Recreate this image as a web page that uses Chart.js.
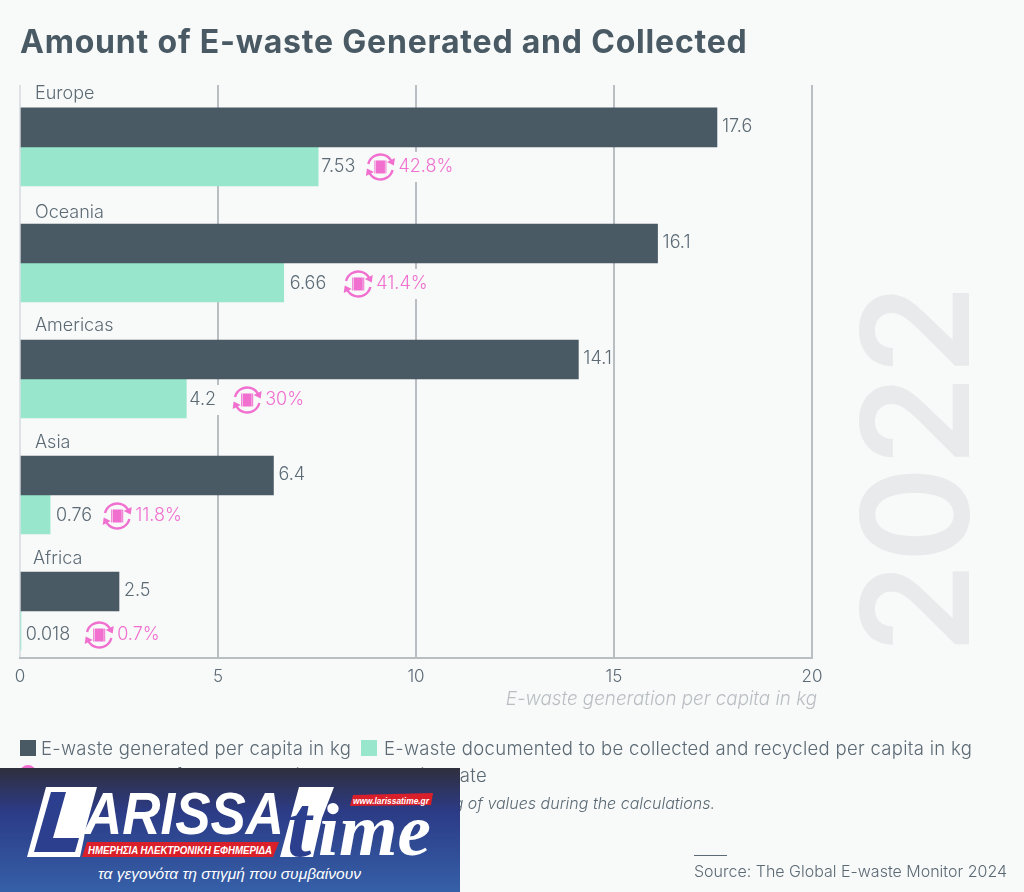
<!DOCTYPE html>
<html>
<head>
<meta charset="utf-8">
<title>Amount of E-waste Generated and Collected</title>
<script src="https://cdn.jsdelivr.net/npm/chart.js@4"></script>
<style>
  html, body { margin: 0; padding: 0; background: #f8f9f9; }
  body { width: 1024px; height: 892px; position: relative; overflow: hidden; font-family: Inter, sans-serif; color: #5b6a74; }
  #chart { position: absolute; left: 0; top: 0; }
  .txt { position: absolute; white-space: nowrap; }
  .swatch { position: absolute; width: 16px; height: 16px; }
  #title { left: 20px; top: 22px; font-size: 32px; font-weight: 700; color: #4a5a64; letter-spacing: 0.8px; }
  .legend { font-size: 18.5px; font-weight: 300; color: #5b6a74; letter-spacing: 0.3px; }
  #year { position: absolute; left: 915px; top: 469px; transform: translate(-50%, -50%) rotate(-90deg) scaleX(0.98); font-size: 149px; font-weight: 600; color: #e9eaec; white-space: nowrap; }
  #banner { position: absolute; left: 0; top: 768px; width: 460px; height: 124px; }
</style>
</head>
<body>
<div id="year">2022</div>
<canvas id="chart" width="1024" height="892"></canvas>
<div id="title" class="txt">Amount of E-waste Generated and Collected</div>

<div class="swatch" style="left:20px;top:740px;background:#4a5a64"></div>
<div class="txt legend" style="left:41px;top:737px">E-waste generated per capita in kg</div>
<div class="swatch" style="left:361px;top:740px;background:#98e6cc"></div>
<div class="txt legend" style="left:384px;top:737px">E-waste documented to be collected and recycled per capita in kg</div>
<div class="swatch" style="left:20px;top:765px;background:#f06fcf;border-radius:50%"></div>
<div class="txt legend" style="right:537px;top:764px">E-waste documented formal collection and recycling rate</div>
<div class="txt" style="right:309px;top:793px;font-size:16px;font-style:italic;font-weight:300">Note: Totals may differ due to rounding of values during the calculations.</div>
<div style="position:absolute;left:694px;top:855px;width:33px;height:1px;background:#5b6a74"></div>
<div class="txt" style="left:694px;top:861px;font-size:16px;font-weight:300">Source: The Global E-waste Monitor 2024</div>

<svg id="banner" viewBox="0 0 460 124" xmlns="http://www.w3.org/2000/svg">
  <defs>
    <linearGradient id="bg" x1="0" y1="0" x2="0" y2="1">
      <stop offset="0" stop-color="#2f2f3d"/>
      <stop offset="0.35" stop-color="#2c3b86"/>
      <stop offset="1" stop-color="#3560a8"/>
    </linearGradient>
  </defs>
  <rect width="460" height="124" fill="url(#bg)"/>
  <polygon points="27,89 46,19 97,19 85,63 84,70 80,89" fill="#fff"/>
  <polygon points="34,84 51,24 66,24 53,70 79,70 75,84" fill="#2c3f8e"/>
  <text x="84" y="66" font-family="Liberation Sans" font-weight="700" font-style="italic" font-size="60" fill="#fff" textLength="200" lengthAdjust="spacingAndGlyphs">ARISSA</text>
  <polygon points="87,74 279,74 273,89 82,89" fill="#d9202a"/>
  <text x="88" y="86" font-family="Liberation Sans" font-weight="700" font-style="italic" font-size="11" fill="#fff" textLength="184" lengthAdjust="spacingAndGlyphs">ΗΜΕΡΗΣΙΑ ΗΛΕΚΤΡΟΝΙΚΗ ΕΦΗΜΕΡΙΔΑ</text>
  <polygon points="299,19 334,19 322,50 313,89 280,89" fill="#fff"/>
  <text x="287" y="88" font-family="Liberation Serif" font-weight="700" font-style="italic" font-size="88" fill="#2c3f8e">t</text>
  <text x="318" y="87" font-family="Liberation Serif" font-weight="700" font-style="italic" font-size="74" fill="#fff" textLength="113" lengthAdjust="spacingAndGlyphs">ime</text>
  <polygon points="353,27 433,25 431,37 350,38" fill="#d9202a"/>
  <text x="353" y="36" font-family="Liberation Sans" font-weight="700" font-style="italic" font-size="9.5" fill="#fff" textLength="76" lengthAdjust="spacingAndGlyphs">www.larissatime.gr</text>
  <text x="98" y="111" font-family="Liberation Sans" font-style="italic" font-size="14.5" fill="#fff" textLength="263" lengthAdjust="spacingAndGlyphs">τα γεγονότα τη στιγμή που συμβαίνουν</text>
</svg>

<script>
// Data
const regions = ['Europe', 'Oceania', 'Americas', 'Asia', 'Africa'];
const generated = [17.6, 16.1, 14.1, 6.4, 2.5];
const collected = [7.53, 6.66, 4.2, 0.76, 0.018];
const collectedText = ['7.53', '6.66', '4.2', '0.76', '0.018'];
const rates = ['42.8%', '41.4%', '30%', '11.8%', '0.7%'];
const xTicks = [0, 5, 10, 15, 20];

const DARK = '#4a5a64';
const GREEN = '#98e6cc';
const PINK = '#f06fcf';
const TEXT = '#5b6a74';
const GRID = '#b9bec3';
const BG = '#f8f9f9';
const FONT = 'Inter, sans-serif';

// per row label placement, the source chart isn't regular here
const nameRise = [53, 50, 53, 52, 52];
const lowDrop = [20, 21, 21, 21, 24];
const labelGaps = [3, 6, 3, 6, 5];
const iconGaps = [11, 18, 17, 11, 15];

function drawRateIcon(ctx, cx, cy) {
  const r = 12.5;
  ctx.save();
  ctx.strokeStyle = PINK;
  ctx.fillStyle = PINK;
  ctx.lineWidth = 2.4;
  ctx.beginPath();
  ctx.arc(cx, cy, r, -2.9, -0.45);
  ctx.stroke();
  ctx.beginPath();
  ctx.arc(cx, cy, r, 0.24, 2.7);
  ctx.stroke();
  // arrow heads
  ctx.beginPath();
  ctx.moveTo(cx + 14.5, cy - 9);
  ctx.lineTo(cx + 13.5, cy - 1.5);
  ctx.lineTo(cx + 6.5, cy - 5);
  ctx.closePath();
  ctx.fill();
  ctx.beginPath();
  ctx.moveTo(cx - 14.5, cy + 9);
  ctx.lineTo(cx - 13.5, cy + 1.5);
  ctx.lineTo(cx - 6.5, cy + 5);
  ctx.closePath();
  ctx.fill();
  // chip in the middle
  ctx.fillRect(cx - 4.5, cy - 6.5, 9, 13);
  ctx.fillRect(cx - 6, cy - 6.5, 1, 13);
  ctx.fillRect(cx + 5, cy - 6.5, 1, 13);
  ctx.restore();
}

const barLabels = {
  id: 'barLabels',
  afterDatasetsDraw(chart) {
    const { ctx, scales: { x, y } } = chart;
    ctx.save();
    ctx.textBaseline = 'middle';
    ctx.textAlign = 'left';
    regions.forEach((name, i) => {
      const mid = y.getPixelForValue(i);

      ctx.font = '300 18px ' + FONT;
      ctx.fillStyle = TEXT;
      ctx.fillText(name, name === 'Africa' ? 33 : 35, mid - nameRise[i]);

      const topY = mid - 20;
      const lowY = mid + lowDrop[i];
      ctx.fillText(generated[i], x.getPixelForValue(generated[i]) + 5, topY);

      // collected value, icon and rate sit on a patch that hides the grid
      const labelX = x.getPixelForValue(collected[i]) + labelGaps[i];
      const labelW = ctx.measureText(collectedText[i]).width;
      const iconX = labelX + labelW + iconGaps[i] + 14;
      const rateW = ctx.measureText(rates[i]).width;
      ctx.fillStyle = BG;
      ctx.fillRect(labelX - 1, lowY - 15, iconX + 18 + rateW + 3 - labelX, 30);
      ctx.fillStyle = TEXT;
      ctx.fillText(collectedText[i], labelX, lowY);
      drawRateIcon(ctx, iconX, lowY);
      ctx.fillStyle = PINK;
      ctx.fillText(rates[i], iconX + 18, lowY);
    });

    ctx.font = 'italic 300 18.8px ' + FONT;
    ctx.fillStyle = GRID;
    ctx.textAlign = 'right';
    ctx.fillText('E-waste generation per capita in kg', x.right + 5, 699);
    ctx.restore();
  }
};

new Chart(document.getElementById('chart'), {
  type: 'bar',
  data: {
    datasets: [
      { label: 'E-waste generated per capita in kg', data: generated.map((v, i) => ({ x: v, y: i })), backgroundColor: DARK, barThickness: 39 },
      { label: 'E-waste documented to be collected and recycled per capita in kg', data: collected.map((v, i) => ({ x: v, y: i })), backgroundColor: GREEN, barThickness: 39 }
    ]
  },
  options: {
    indexAxis: 'y',
    responsive: false,
    animation: false,
    devicePixelRatio: 1,
    layout: { padding: { left: 20, right: 212, top: 85, bottom: 0 } },
    plugins: { legend: { display: false }, title: { display: false }, tooltip: { enabled: false } },
    scales: {
      x: {
        type: 'linear',
        min: 0,
        max: 20,
        afterFit: s => { s.height = 234; },
        afterBuildTicks: s => { s.ticks = xTicks.map(v => ({ value: v })); },
        grid: {
          color: c => (c.tick && c.tick.value === 0 ? '#dfe2e5' : GRID),
          lineWidth: 2,
          tickLength: 0,
          drawTicks: false
        },
        border: { color: GRID, width: 2 },
        ticks: { color: TEXT, padding: 9, maxRotation: 0, font: { family: FONT, size: 17, weight: '300' } }
      },
      y: {
        type: 'linear',
        reverse: true,
        offset: false,
        min: -0.534,
        max: 4.405,
        display: false
      }
    }
  },
  plugins: [barLabels]
});
</script>
</body>
</html>
